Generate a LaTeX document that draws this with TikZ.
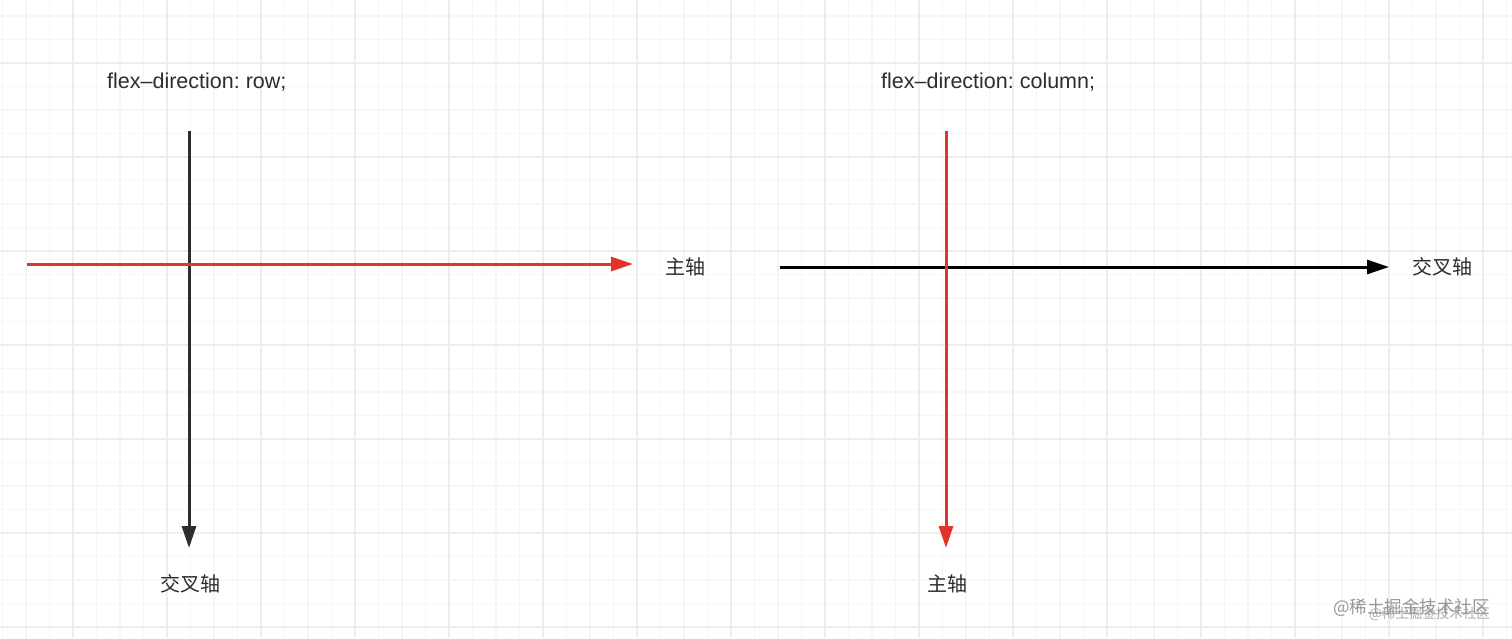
\documentclass[tikz,border=0pt]{standalone}
\usepackage{fontspec}
\setmainfont{Liberation Sans}
\newfontfamily\cjk{Noto Sans CJK SC}
\usetikzlibrary{arrows.meta}
\frenchspacing
\definecolor{gridminor}{RGB}{246,246,246}
\definecolor{gridmajor}{RGB}{237,237,237}
\definecolor{axisred}{RGB}{226,52,42}
\definecolor{textdark}{RGB}{45,45,45}
\definecolor{wmgray}{RGB}{150,150,150}
\tikzset{
  minorline/.style={draw=gridminor, line width=1.4pt},
  majorline/.style={draw=gridmajor, line width=1.6pt},
  axisarrow/.style={line width=3pt, -{Triangle[length=22pt,width=14pt]}},
  codelbl/.style={inner sep=0pt, text=textdark, font=\fontsize{21.5}{26}\selectfont, anchor=west},
  axislbl/.style={inner sep=0pt, text=textdark, font=\cjk\fontsize{20}{24}\selectfont},
  wmark/.style={inner sep=0pt, text=wmgray, anchor=west},
}
\begin{document}
\begin{tikzpicture}[x=1pt,y=-1pt]
\useasboundingbox (0,0) rectangle (1512,638);
\fill[white] (0,0) rectangle (1512,638);
% grid
\foreach \i in {0,...,64} { \draw[minorline] ({2.5+23.5*\i},0) -- ({2.5+23.5*\i},638); }
\foreach \j in {0,...,26} { \draw[minorline] (0,{16+23.5*\j}) -- (1512,{16+23.5*\j}); }
\foreach \i in {3,7,...,63} { \draw[majorline] ({2.5+23.5*\i},0) -- ({2.5+23.5*\i},638); }
\foreach \j in {2,6,...,26} { \draw[majorline] (0,{16+23.5*\j}) -- (1512,{16+23.5*\j}); }

% left diagram: row
\node[codelbl] (rowTitle) at (107,82) {flex–direction: row;};
\coordinate (rowCrossTop) at (189,131);
\coordinate (rowCrossEnd) at (189,548);
\coordinate (rowMainStart) at (27,264);
\coordinate (rowMainEnd) at (633,264);
\draw[axisarrow, draw=textdark, fill=textdark] (rowCrossTop) -- (rowCrossEnd);
\draw[axisarrow, draw=axisred, fill=axisred] (rowMainStart) -- (rowMainEnd);
\node[axislbl] (rowMainLbl) at (685,267) {主轴};
\node[axislbl] (rowCrossLbl) at (190,584) {交叉轴};

% right diagram: column
\node[codelbl] (colTitle) at (881,82) {flex–direction: column;};
\coordinate (colCrossStart) at (780,267);
\coordinate (colCrossEnd) at (1389,267);
\coordinate (colMainTop) at (946,131);
\coordinate (colMainEnd) at (946,548);
\draw[axisarrow, draw=black, fill=black] (colCrossStart) -- (colCrossEnd);
\draw[axisarrow, draw=axisred, fill=axisred] (colMainTop) -- (colMainEnd);
\node[axislbl] (colCrossLbl) at (1442,267) {交叉轴};
\node[axislbl] (colMainLbl) at (947,584) {主轴};

% watermark (two overlapping copies, as in the reference)
\node[wmark, font=\cjk\fontsize{17.5}{20}\selectfont] (wm1) at (1333,608) {@稀土掘金技术社区};
\node[wmark, font=\cjk\fontsize{13.5}{16}\selectfont, opacity=0.8] (wm2) at (1369,614) {@稀土掘金技术社区};
\end{tikzpicture}
\end{document}
